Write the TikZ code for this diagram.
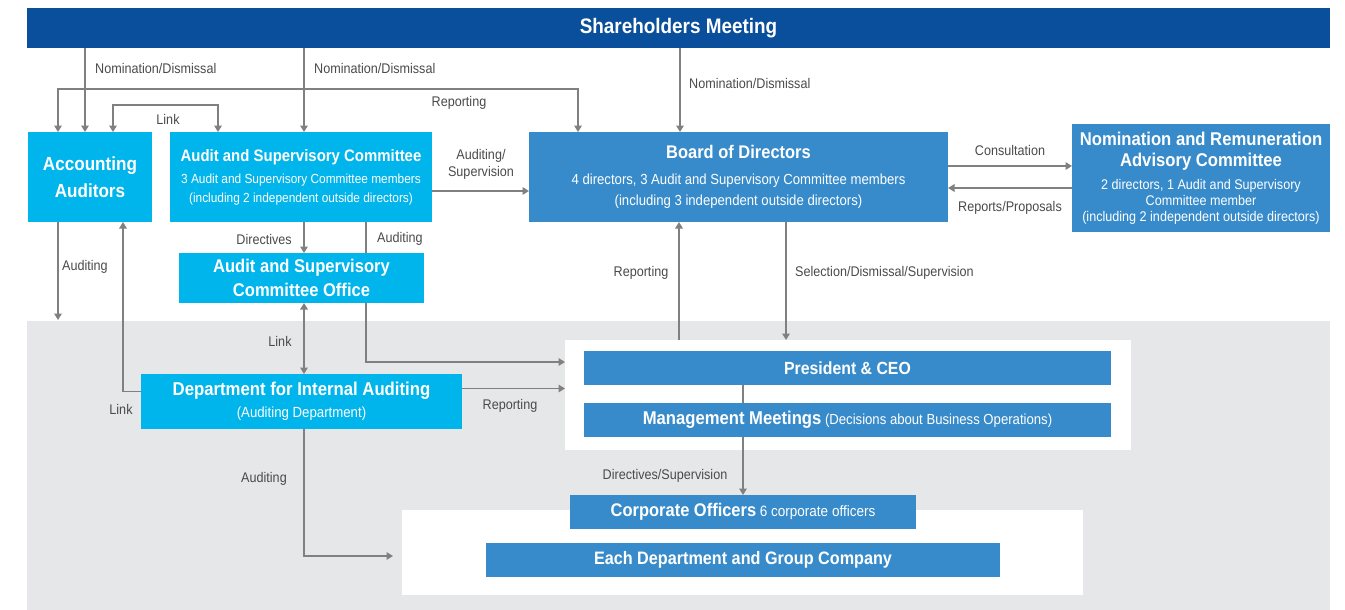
\documentclass[tikz,border=0pt]{standalone}
\usepackage{fontspec}
\setmainfont{Liberation Sans}[FakeStretch=0.9]
\usetikzlibrary{arrows.meta,calc}
\definecolor{dkblue}{HTML}{0A4F9C}
\definecolor{cyanb}{HTML}{00B4EC}
\definecolor{midb}{HTML}{378BCA}
\definecolor{greybg}{HTML}{E6E7E9}
\definecolor{arrg}{HTML}{808080}
\definecolor{labg}{HTML}{4A4A4A}
\newcommand{\fs}[2]{\fontsize{#1}{#2}\selectfont}
\newcommand{\ttl}[2]{{\bfseries\fontsize{#1}{#1}\selectfont #2}}
\tikzset{
  box/.style={inner sep=0pt, outer sep=0pt, text=white, align=center},
  cbox/.style={box, fill=cyanb},
  mbox/.style={box, fill=midb},
  wbox/.style={inner sep=0pt, outer sep=0pt, fill=white},
  arr/.style={draw=arrg, line width=1.8pt, -{Triangle[width=7.5pt,length=6.5pt]}},
  darr/.style={draw=arrg, line width=1.8pt, {Triangle[width=7.5pt,length=6.5pt]}-{Triangle[width=7.5pt,length=6.5pt]}},
  ln/.style={draw=arrg, line width=1.8pt},
  lab/.style={inner sep=0pt, text=labg, font=\fs{14}{17}, align=center},
}
\begin{document}
\begin{tikzpicture}[x=1pt,y=-1pt]
\useasboundingbox (0,0) rectangle (1345,610);
\fill[greybg] (27,321) rectangle (1330,610);
% nodes
\node[box, fill=dkblue, minimum width=1303pt, minimum height=40pt] (sh) at (678.5,28) {\ttl{21}{Shareholders Meeting}};
\node[cbox, minimum width=124pt, minimum height=90pt, font=\bfseries\fs{19}{27}] (aa) at (90,177) {Accounting\\Auditors};
\node[cbox, minimum width=262pt, minimum height=90pt, font=\fs{13.2}{19}] (asc) at (301,177) {\ttl{16.6}{Audit and Supervisory Committee}\\[3pt]3 Audit and Supervisory Committee members\\(including 2 independent outside directors)};
\node[mbox, minimum width=419pt, minimum height=90pt, font=\fs{14.6}{21}] (bod) at (738.5,177) {\ttl{18.3}{Board of Directors}\\[5pt]4 directors, 3 Audit and Supervisory Committee members\\(including 3 independent outside directors)};
\node[mbox, minimum width=258pt, minimum height=108pt, font=\fs{14}{16}] (nom) at (1201,178) {\ttl{18.5}{Nomination and Remuneration}\\[5pt]\ttl{18.5}{Advisory Committee}\\[7pt]2 directors, 1 Audit and Supervisory\\Committee member\\(including 2 independent outside directors)};
\node[wbox, minimum width=566pt, minimum height=110pt] (wb1) at (848,395) {};
\node[wbox, minimum width=681pt, minimum height=85pt] (wb2) at (742.5,552.5) {};
% line that runs behind the office box
\coordinate (pG) at ($(asc.south west)+(196,0)$);
\coordinate (yAud) at (0,362);
\draw[arr] (pG) -- (pG |- yAud) -- (wb1.west |- yAud);
\node[cbox, minimum width=245pt, minimum height=50pt, font=\bfseries\fs{18.4}{24}] (off) at (301.5,278) {Audit and Supervisory\\Committee Office};
\node[cbox, minimum width=321pt, minimum height=55pt, font=\fs{14.7}{22}] (dia) at (301.5,401.5) {\ttl{18.6}{Department for Internal Auditing}\\(Auditing Department)};
\node[mbox, minimum width=527pt, minimum height=34pt] (ceo) at (847.5,368) {\ttl{17.6}{President \& CEO}};
\node[mbox, minimum width=527pt, minimum height=34pt, font=\fs{14.6}{20}] (mm) at (847.5,420) {\ttl{18.5}{Management Meetings} (Decisions about Business Operations)};
\node[mbox, minimum width=346pt, minimum height=34pt, font=\fs{15}{20}] (co) at (743,512) {\ttl{18.3}{Corporate Officers} 6 corporate officers};
\node[mbox, minimum width=514pt, minimum height=34pt] (ed) at (743,560) {\ttl{18}{Each Department and Group Company}};
% helper coordinates
\coordinate (pA) at ($(aa.north west)+(30,0)$);
\coordinate (pB) at ($(aa.north west)+(57,0)$);
\coordinate (pC) at ($(aa.north west)+(85,0)$);
\coordinate (pD) at ($(aa.south west)+(95,0)$);
\coordinate (pE) at ($(asc.north west)+(48,0)$);
\coordinate (pF) at ($(asc.north west)+(134,0)$);
\coordinate (pH) at ($(bod.north west)+(49,0)$);
\coordinate (pI) at ($(bod.north west)+(151,0)$);
\coordinate (pJ) at ($(bod.south west)+(150,0)$);
\coordinate (pK) at ($(bod.south west)+(257,0)$);
\coordinate (pL) at ($(ceo.south west)+(159,0)$);
\coordinate (pM) at ($(dia.south west)+(163,0)$);
\coordinate (qA) at ($(asc.east)+(0,14)$);
\coordinate (qB) at ($(bod.east)+(0,-11)$);
\coordinate (qC) at ($(nom.west)+(0,10)$);
\coordinate (qD) at ($(dia.west)+(0,-10)$);
\coordinate (qE) at ($(dia.east)+(0,-13)$);
\coordinate (qF) at ($(wb2.west)+(-9,0)$);
\coordinate (yRep) at (0,89);
\coordinate (yLink) at (0,105);
\coordinate (yGrey) at (0,320);
\coordinate (yEd) at (0,556);
% connectors
\draw[arr] (pB |- sh.south) -- (pB);
\draw[arr] (pF |- sh.south) -- (pF);
\draw[arr] (pI |- sh.south) -- (pI);
\draw[darr] (pA) -- (pA |- yRep) -- (pH |- yRep) -- (pH);
\draw[darr] (pC) -- (pC |- yLink) -- (pE |- yLink) -- (pE);
\draw[arr] (qA) -- (qA -| bod.west);
\draw[arr] (qB) -- (qB -| nom.west);
\draw[arr] (qC) -- (qC -| bod.east);
\draw[arr] (pF |- asc.south) -- (pF |- off.north);
\draw[arr] (pA |- aa.south) -- (pA |- yGrey);
\draw[darr] (pF |- off.south) -- (pF |- dia.north);
\draw[arr] (qD) -- (qD -| pD) -- (pD);
\draw[arr] (qE) -- (qE -| wb1.west);
\draw[arr] (pK) -- (pK |- wb1.north);
\draw[arr] (pJ |- wb1.north) -- (pJ);
\draw[ln] (pL) -- (pL |- mm.north);
\draw[arr] (pL |- mm.south) -- (pL |- co.north);
\draw[arr] (pM) -- (pM |- yEd) -- (qF |- yEd);
% labels
\node[lab, anchor=west] (l1) at (95,68) {Nomination/Dismissal};
\node[lab, anchor=west] (l2) at (314,68) {Nomination/Dismissal};
\node[lab, anchor=west] (l3) at (689,83) {Nomination/Dismissal};
\node[lab] (l4) at (459,103) {Reporting};
\node[lab] (l5) at (168,119) {Link};
\node[lab, font=\fs{14}{17}] (l6) at (481,164) {Auditing/\\Supervision};
\node[lab] (l7) at (1010,150) {Consultation};
\node[lab] (l8) at (1010,208) {Reports/Proposals};
\node[lab, anchor=east] (l9) at (292,239) {Directives};
\node[lab, anchor=west] (l10) at (377,239) {Auditing};
\node[lab, anchor=west] (l11) at (62,267) {Auditing};
\node[lab] (l12) at (280,341) {Link};
\node[lab] (l13) at (121,409) {Link};
\node[lab] (l14) at (510,406) {Reporting};
\node[lab] (l15) at (641,273) {Reporting};
\node[lab, anchor=west] (l16) at (795,273) {Selection/Dismissal/Supervision};
\node[lab] (l17) at (665,476) {Directives/Supervision};
\node[lab] (l18) at (264,479) {Auditing};
\end{tikzpicture}
\end{document}
